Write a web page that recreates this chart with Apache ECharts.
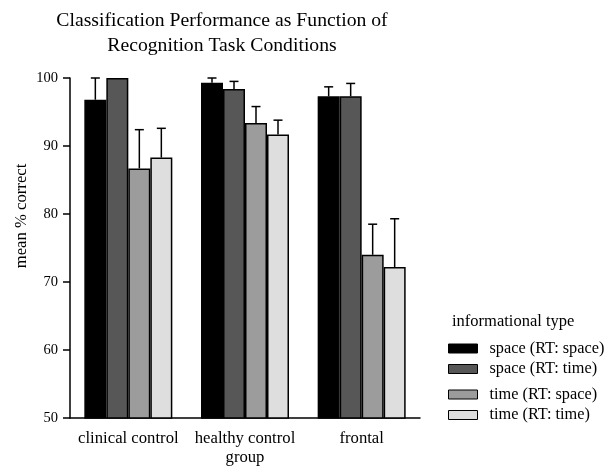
<!DOCTYPE html>
<html><head><meta charset="utf-8">
<script src="https://cdn.jsdelivr.net/npm/echarts@6/dist/echarts.min.js"></script>
<style>html,body{margin:0;padding:0;background:#fff}#c{width:608px;height:467px}</style>
</head><body><div id="c"></div>
<script>
const categories = ['clinical control', 'healthy control\ngroup', 'frontal'];
const seriesNames = ['space (RT: space)', 'space (RT: time)', 'time (RT: space)', 'time (RT: time)'];
const spaceSpace = [96.8, 99.3, 97.3];
const spaceTime = [100, 98.4, 97.3];
const timeSpace = [86.7, 93.4, 74.0];
const timeTime = [88.3, 91.7, 72.2];
const spaceSpaceErr = [100, 100, 98.7];
const spaceTimeErr = [100, 99.5, 99.2];
const timeSpaceErr = [92.4, 95.8, 78.5];
const timeTimeErr = [92.6, 93.8, 79.3];
const yTicks = [50, 60, 70, 80, 90, 100];

const values = [spaceSpace, spaceTime, timeSpace, timeTime];
const errs = [spaceSpaceErr, spaceTimeErr, timeSpaceErr, timeTimeErr];
const colors = ['#000000', '#575757', '#9c9c9c', '#dedede'];
const BW = 22;
const font = '"Liberation Serif", "Times New Roman", serif';

const series = [];
values.forEach((v, i) => {
  series.push({
    name: seriesNames[i], type: 'bar', data: v, barWidth: BW, barGap: '0%',
    itemStyle: { color: colors[i], borderColor: '#000', borderWidth: 1.5 },
    z: 2
  });
});
values.forEach((v, i) => {
  series.push({
    type: 'custom', z: 3, silent: true,
    data: v.map((val, k) => [k, val, errs[i][k]]),
    renderItem: function (params, api) {
      const c = api.coord([api.value(0), api.value(1)]);
      const t = api.coord([api.value(0), api.value(2)]);
      const x = c[0] + (i - 1.5) * BW;
      if (Math.abs(t[1] - c[1]) < 0.5) return null;
      return { type: 'group', children: [
        { type: 'line', shape: { x1: x, y1: c[1], x2: x, y2: t[1] }, style: { stroke: '#000', lineWidth: 1.5 } },
        { type: 'line', shape: { x1: x - 4.5, y1: t[1], x2: x + 4.5, y2: t[1] }, style: { stroke: '#000', lineWidth: 1.5 } }
      ]};
    }
  });
});

const legendCommon = {
  orient: 'vertical', left: 448, icon: 'rect', padding: 0,
  itemWidth: 29, itemHeight: 9, itemGap: 3.5,
  textStyle: { fontFamily: font, fontSize: 16.3, lineHeight: 17, color: '#000', padding: [0, 0, 0, 7] },
  itemStyle: { borderColor: '#000', borderWidth: 1 }
};

const chart = echarts.init(document.getElementById('c'));
chart.setOption({
  animation: false,
  backgroundColor: '#fff',
  textStyle: { fontFamily: font, color: '#000' },
  title: {
    text: 'Classification Performance as Function of\nRecognition Task Conditions',
    left: 217, top: 3, textAlign: 'center',
    textStyle: { fontFamily: font, fontSize: 19.7, fontWeight: 'normal', color: '#000', lineHeight: 25 }
  },
  legend: [
    Object.assign({ data: seriesNames.slice(0, 2), top: 340 }, legendCommon),
    Object.assign({ data: seriesNames.slice(2, 4), top: 386 }, legendCommon)
  ],
  graphic: [{
    type: 'text', left: 452, top: 313,
    style: { text: 'informational type', font: '16.5px ' + font, fill: '#000' }
  }, {
    type: 'text', x: 22, y: 216, rotation: Math.PI / 2,
    style: { text: 'mean % correct', font: '16.7px ' + font, fill: '#000', align: 'center', verticalAlign: 'middle' }
  }],
  grid: { left: 70, right: 188, top: 78, bottom: 49, containLabel: false },
  xAxis: {
    type: 'category', data: categories,
    axisLine: { lineStyle: { color: '#000', width: 1.5 } },
    axisTick: { show: false },
    axisLabel: { interval: 0, fontFamily: font, fontSize: 16.7, color: '#000', margin: 11, lineHeight: 19 }
  },
  yAxis: {
    type: 'value', min: 50, max: 100, interval: 10,
    axisLine: { show: true, lineStyle: { color: '#000', width: 1.5 } },
    axisTick: { show: true, length: 7, lineStyle: { color: '#000', width: 1.5 } },
    splitLine: { show: false },
    axisLabel: { fontFamily: font, fontSize: 14.5, color: '#000', margin: 12,
      formatter: v => yTicks.includes(v) ? String(v) : '' }
  },
  series: series
});
</script></body></html>
